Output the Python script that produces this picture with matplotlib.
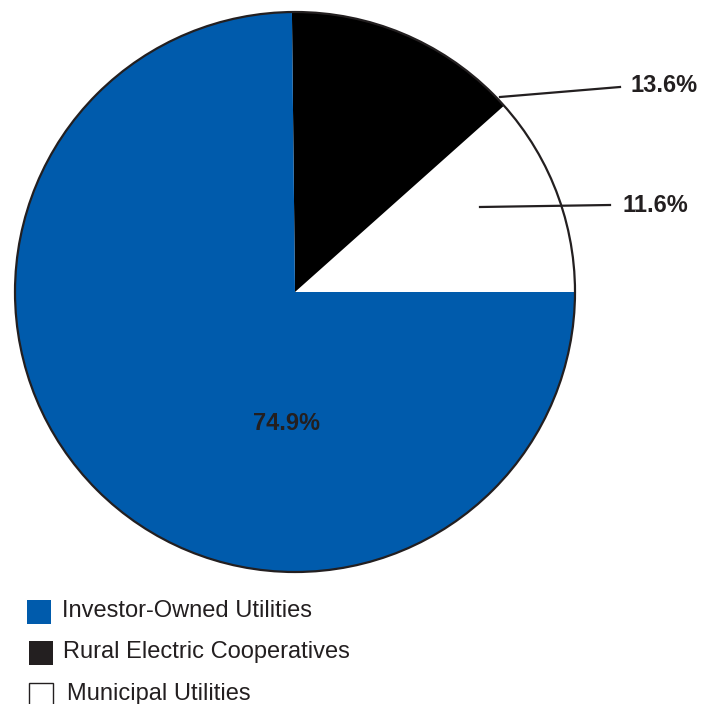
import matplotlib.pyplot as plt
from matplotlib.patches import Rectangle, Circle

plt.rcParams['font.family'] = ['Liberation Sans', 'DejaVu Sans']

categories = ['Municipal Utilities', 'Rural Electric Cooperatives', 'Investor-Owned Utilities']
shares = [11.6, 13.6, 74.9]
colors = ['#ffffff', '#000000', '#005bac']
legend_order = ['Investor-Owned Utilities', 'Rural Electric Cooperatives', 'Municipal Utilities']
legend_colors = ['#005bac', '#231f20', '#ffffff']

W, H = 712, 704
fig = plt.figure(figsize=(W / 100, H / 100), dpi=100)
ax = fig.add_axes([0, 0, 1, 1])
ax.set_xlim(0, W)
ax.set_ylim(0, H)
ax.set_aspect('equal')
ax.axis('off')

cx, cy, r = 295, H - 292, 280
ax.pie(shares, colors=colors, startangle=0, counterclock=True,
       center=(cx, cy), radius=r, frame=True,
       wedgeprops=dict(linewidth=0))
ax.set_xlim(0, W)
ax.set_ylim(0, H)
ax.axis('off')
ax.add_patch(Circle((cx, cy), r, fill=False, edgecolor='#231f20', linewidth=1.6))

txt = '#231f20'
lab = dict(fontsize=17, fontweight='bold', color=txt)

# leader lines to the outside labels
ax.plot([500, 620], [H - 97, H - 87], color=txt, lw=1.6)
ax.text(630, H - 86, f'{shares[1]}%', va='center', ha='left', **lab)
ax.plot([480, 610], [H - 207, H - 205], color=txt, lw=1.6)
ax.text(622, H - 206, f'{shares[0]}%', va='center', ha='left', **lab)
ax.text(286, H - 423, f'{shares[2]}%', va='center', ha='center', **lab)

# legend drawn by hand under the pie
box_x = [27, 29, 29]
box_y = [600, 641, 683]
text_x = [62, 63, 67]
for name, c, bx, by, tx in zip(legend_order, legend_colors, box_x, box_y, text_x):
    ax.add_patch(Rectangle((bx, H - by - 24), 24, 24, facecolor=c,
                           edgecolor='#231f20' if c == '#ffffff' else 'none', lw=1.0))
    ax.text(tx, H - by - 11, name, va='center', ha='left', fontsize=17, color=txt)

fig.savefig('out.png', dpi=100)
